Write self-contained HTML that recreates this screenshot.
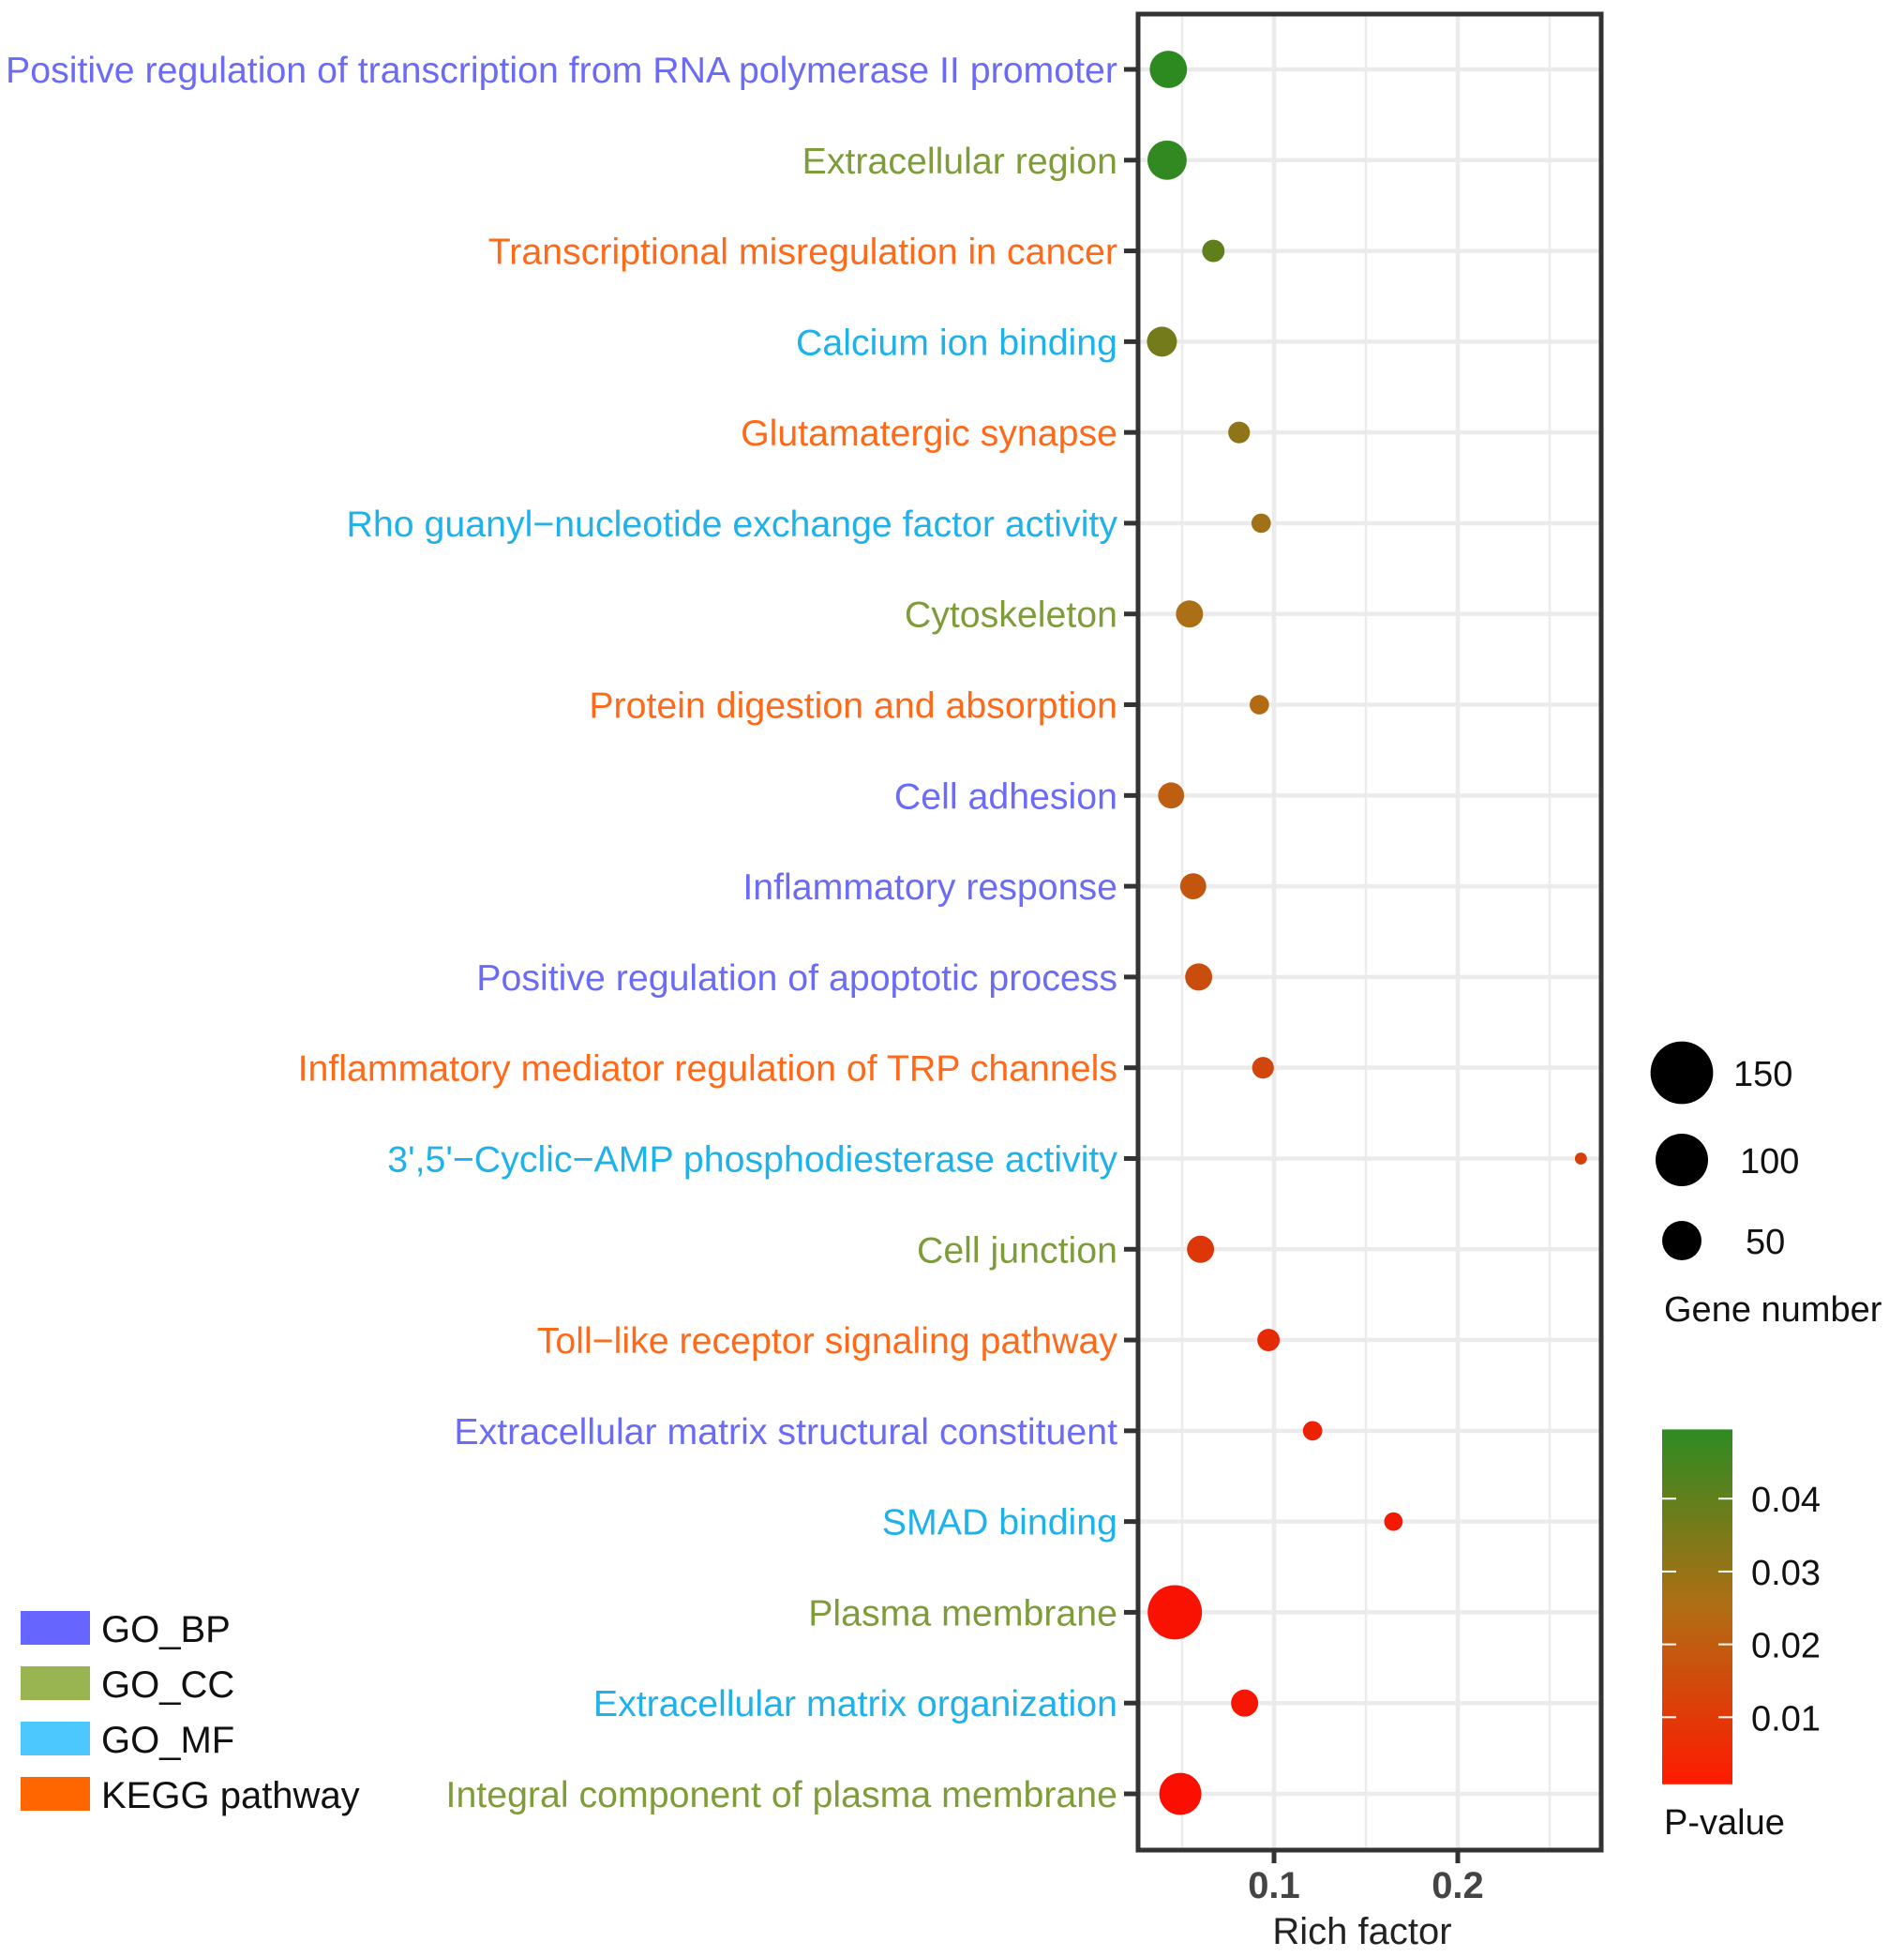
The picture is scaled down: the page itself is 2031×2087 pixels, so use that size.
<!DOCTYPE html>
<html><head><meta charset="utf-8">
<style>
html,body{margin:0;padding:0;background:#fff;}
svg{display:block;font-family:"Liberation Sans",Arial,sans-serif;}
</style></head>
<body>
<svg id="chart" width="2031" height="2087" viewBox="0 0 2031 2087" xmlns="http://www.w3.org/2000/svg">
  <rect x="0" y="0" width="2031" height="2087" fill="#fff"/>
  <g id="grid"></g>
  <g id="points"></g>
  <rect x="1214" y="15" width="494" height="1958" fill="none" stroke="#333" stroke-width="5"/>
  <g id="yaxis"></g>
  <g id="xaxis"></g>
  <text x="1453" y="2073" font-size="40" fill="#222" text-anchor="middle">Rich factor</text>

  <g>
    <rect x="22" y="1718" width="74" height="36" fill="#6666ff"/>
    <text x="108" y="1751" font-size="40" fill="#111">GO_BP</text>
    <rect x="22" y="1777" width="74" height="36" fill="#99b552"/>
    <text x="108" y="1810" font-size="40" fill="#111">GO_CC</text>
    <rect x="22" y="1836" width="74" height="36" fill="#4dc8ff"/>
    <text x="108" y="1869" font-size="40" fill="#111">GO_MF</text>
    <rect x="22" y="1895" width="74" height="36" fill="#ff6600"/>
    <text x="108" y="1928" font-size="40" fill="#111">KEGG pathway</text>
  </g>

  <g id="sizelegend"></g>
  <text x="1775" y="1409" font-size="38" fill="#111">Gene number</text>

  <defs>
    <linearGradient id="pgrad" x1="0" y1="1" x2="0" y2="0">
      <stop offset="0" stop-color="#ff1a00"/>
      <stop offset="0.5" stop-color="#b06e14"/>
      <stop offset="1" stop-color="#2e8b22"/>
    </linearGradient>
  </defs>
  <g id="colorbar"></g>
  <text x="1775" y="1956" font-size="38" fill="#111">P-value</text>
</svg>
<script>
const categories = ["Positive regulation of transcription from RNA polymerase II promoter","Extracellular region","Transcriptional misregulation in cancer","Calcium ion binding","Glutamatergic synapse","Rho guanyl\u2212nucleotide exchange factor activity","Cytoskeleton","Protein digestion and absorption","Cell adhesion","Inflammatory response","Positive regulation of apoptotic process","Inflammatory mediator regulation of TRP channels","3',5'\u2212Cyclic\u2212AMP phosphodiesterase activity","Cell junction","Toll\u2212like receptor signaling pathway","Extracellular matrix structural constituent","SMAD binding","Plasma membrane","Extracellular matrix organization","Integral component of plasma membrane"];
const groups = ["BP","CC","KEGG","MF","KEGG","MF","CC","KEGG","BP","BP","BP","KEGG","MF","CC","KEGG","BP","MF","CC","MF","CC"];
const richFactor = [0.0425,0.0418,0.067,0.039,0.081,0.093,0.054,0.092,0.044,0.056,0.059,0.094,0.267,0.060,0.097,0.121,0.165,0.046,0.084,0.049];
const geneNumber = [44,50,11,25,10,7,19,7,17,17,19,10,1,19,11,7,6,108,19,59];
const pValue = [0.049,0.048,0.040,0.036,0.031,0.028,0.026,0.024,0.021,0.019,0.017,0.015,0.013,0.011,0.008,0.006,0.004,0.002,0.003,0.001];
const xTicks = [0.1,0.2];
const xTickLabels = ["0.1","0.2"];
const xMinor = [0.05,0.15,0.25];
const sizeBreaks = [150,100,50];
const pTicks = [0.04,0.03,0.02,0.01];
const pTickLabels = ["0.04","0.03","0.02","0.01"];

const NS="http://www.w3.org/2000/svg";
const groupColor={BP:"#6b6bf5",CC:"#7f9c3a",MF:"#1fb2ea",KEGG:"#ff6a1a"};
const PL=1214,PR=1708,PT=15,PB=1973;
function x(v){return 1359+(v-0.1)*1960;}
function y(i){return 74+i*(1913-74)/(categories.length-1);}
function r(n){return 4+2.4*Math.sqrt(n);}
function pY(p){return 1909-p*7770;}
function lerp(a,b,t){return Math.round(a+(b-a)*t);}
function col(p){
  const lo=[255,10,0],mid=[176,110,20],hi=[40,139,34];
  let t=Math.max(0,Math.min(1,p/0.05)),a,b,u;
  if(t<0.5){a=lo;b=mid;u=t/0.5;}else{a=mid;b=hi;u=(t-0.5)/0.5;}
  return "rgb("+lerp(a[0],b[0],u)+","+lerp(a[1],b[1],u)+","+lerp(a[2],b[2],u)+")";
}
function mk(tag,attrs,parent){const e=document.createElementNS(NS,tag);for(const k in attrs)e.setAttribute(k,attrs[k]);parent.appendChild(e);return e;}

const grid=document.getElementById('grid');
xMinor.forEach(v=>{const l=mk('line',{x1:x(v),x2:x(v),y1:PT,y2:PB,stroke:'#ececec','stroke-width':2.5},grid);

});
xTicks.forEach(v=>{const l=mk('line',{x1:x(v),x2:x(v),y1:PT,y2:PB,stroke:'#ebebeb','stroke-width':4.5},grid);

});
categories.forEach((c,i)=>{const l=mk('line',{x1:PL,x2:PR,y1:y(i),y2:y(i),stroke:'#ebebeb','stroke-width':4.5},grid);

});

const pts=document.getElementById('points');
categories.forEach((c,i)=>{const e=mk('circle',{cx:x(richFactor[i]),cy:y(i),r:r(geneNumber[i]),fill:col(pValue[i])},pts);

});

const ya=document.getElementById('yaxis');
categories.forEach((c,i)=>{
  const t=mk('line',{x1:1199,x2:1214,y1:y(i),y2:y(i),stroke:'#333','stroke-width':5},ya);
  
  
  const tx=mk('text',{x:1192,y:y(i)+14,'font-size':39.3,'text-anchor':'end',fill:groupColor[groups[i]]},ya);
  tx.textContent=c;
  
  
});

const xa=document.getElementById('xaxis');
xTicks.forEach((v,i)=>{
  const t=mk('line',{x1:x(v),x2:x(v),y1:PB,y2:PB+14,stroke:'#333','stroke-width':5},xa);
  
  
  const tx=mk('text',{x:x(v),y:2024,'font-size':40,'font-weight':'bold','text-anchor':'middle',fill:'#444'},xa);
  tx.textContent=xTickLabels[i];
  
  
});

const sl=document.getElementById('sizelegend');
const sy=[1144,1237,1323],slx=[1849,1856,1862];
sizeBreaks.forEach((n,i)=>{
  const c=mk('circle',{cx:1794,cy:sy[i],r:r(n),fill:'#000'},sl);
  
  
  const t=mk('text',{x:slx[i],y:sy[i]+14,'font-size':38,fill:'#111'},sl);
  t.textContent=String(n);
  
  
});

const cb=document.getElementById('colorbar');
const bar=mk('rect',{x:1773,y:pY(0.0495),width:75,height:pY(0.0008)-pY(0.0495),fill:'url(#pgrad)'},cb);


pTicks.forEach((p,i)=>{
  const a=mk('line',{x1:1773,x2:1788,y1:pY(p),y2:pY(p),stroke:'#fff','stroke-width':2},cb);
  
  
  const b=mk('line',{x1:1833,x2:1848,y1:pY(p),y2:pY(p),stroke:'#fff','stroke-width':2},cb);
  
  
  const t=mk('text',{x:1868,y:pY(p)+14,'font-size':38,fill:'#111'},cb);
  t.textContent=pTickLabels[i];
  
  
});
</script>
</body></html>
